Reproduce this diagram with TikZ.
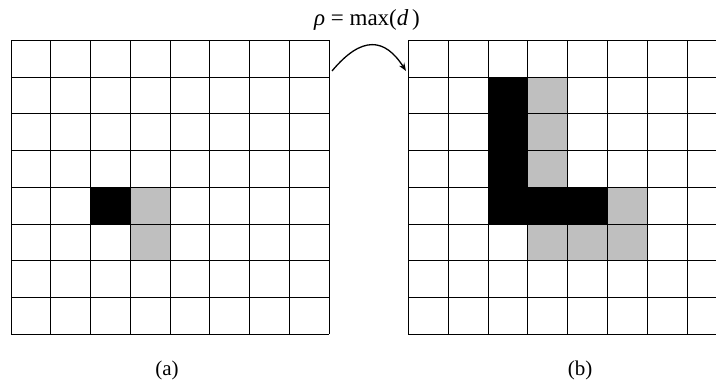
\documentclass[tikz,border=0pt]{standalone}
\usepackage{fontspec}
\setmainfont{Liberation Serif}
\usetikzlibrary{arrows.meta}
\begin{document}
\begin{tikzpicture}[x=1pt,y=-1pt,
  gridline/.style={line width=1pt},
  blk/.style={fill=black,draw=black,line width=1pt},
  gry/.style={fill=black!25},
  lbl/.style={font=\fontsize{21}{24}\selectfont, inner sep=0pt}]
\useasboundingbox (0,0) rectangle (716,382);
\clip (0,0) rectangle (716,382);
% left grid
\begin{scope}[shift={(11.2,40.5)}, x=39.75pt, y=-36.75pt]
  \fill[gry] (3,4) rectangle (4,6);
  \foreach \i in {0,...,8} {
    \draw[gridline] (\i,0) -- (\i,8);
    \draw[gridline] (0,\i) -- (8,\i);
  }
  \filldraw[blk] (2,4) rectangle (3,5);
\end{scope}
% right grid
\begin{scope}[shift={(408.4,40.5)}, x=39.85pt, y=-36.75pt]
  \fill[gry] (3,1) rectangle (4,4);
  \fill[gry] (3,5) rectangle (6,6);
  \fill[gry] (5,4) rectangle (6,5);
  \foreach \i in {0,...,8} {
    \draw[gridline] (\i,0) -- (\i,8);
    \draw[gridline] (0,\i) -- (8,\i);
  }
  \filldraw[blk] (2,1) -- (3,1) -- (3,4) -- (5,4) -- (5,5) -- (2,5) -- cycle;
\end{scope}
% labels
\node[lbl] (la) at (167,370) {(a)};
\node[lbl] (lb) at (580,370) {(b)};
\node[lbl, font=\fontsize{23}{26}\selectfont] (rho) at (367,20) {{\itshape ρ} = max({\itshape d\,})};
% arrow
\coordinate (arrs) at (332,71);
\coordinate (arre) at (406,71);
\draw[line width=1.3pt, -{Stealth[length=8pt,width=6pt]}] (arrs) .. controls (362,35) and (385,38) .. (arre);
\end{tikzpicture}
\end{document}
